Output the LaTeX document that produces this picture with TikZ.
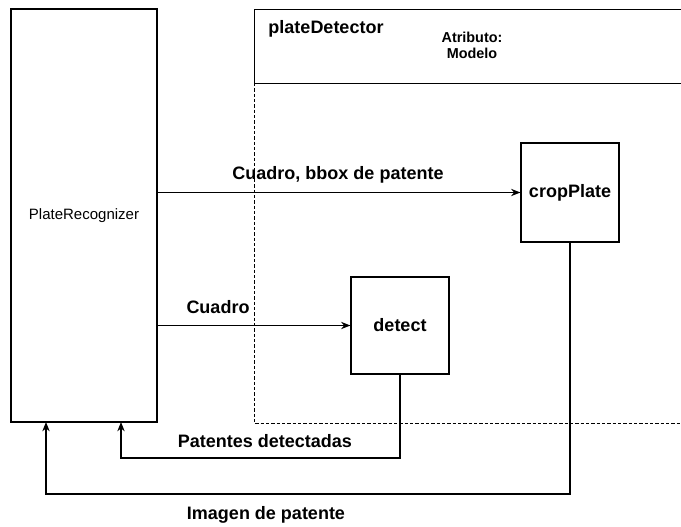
\documentclass[tikz,border=0pt]{standalone}
\usepackage{fontspec}
\setmainfont{Liberation Sans}
\usetikzlibrary{arrows.meta,calc}
\begin{document}
\begin{tikzpicture}[x=0.75pt,y=-0.75pt,
  box/.style={draw,line width=0.9pt,rectangle,inner sep=0pt},
  lbl/.style={font=\fontsize{13.5}{16}\selectfont\bfseries,inner sep=0pt},
  arr/.style={draw,line width=0.9pt,-{Stealth[length=7pt,width=5.5pt]}},
  ln/.style={draw,line width=0.9pt}]
\useasboundingbox (0,0) rectangle (681,527);
% dashed region
\draw[line width=0.7pt,dash pattern=on 2.5pt off 1.5pt] (254,83) -- (254,423) -- (690,423);
% header
\node[box,minimum width=327pt,minimum height=55.5pt,anchor=north west] (hdr) at (254,9) {};
\node[lbl] (hdrt) at (326,29) {plateDetector};
\node[font=\fontsize{10.8}{12}\selectfont\bfseries,align=center,inner sep=0pt] (attr) at (472,45) {Atributo:\\Modelo};
% nodes
\node[box,minimum width=109.5pt,minimum height=309.75pt,font=\fontsize{11.25}{13}\selectfont] (rec) at (84,215.5) {PlateRecognizer};
\node[box,minimum width=73.5pt,minimum height=72.75pt,font=\fontsize{13.5}{16}\selectfont\bfseries] (detect) at (400,325.5) {detect};
\node[box,minimum width=73.5pt,minimum height=74.25pt,font=\fontsize{13.5}{16}\selectfont\bfseries] (crop) at (570,192.5) {cropPlate};
\coordinate (r1) at (121,422);
\coordinate (r2) at (46,422);
% connectors
\draw[arr] (rec.east |- crop.west) -- (crop.west);
\draw[arr] (rec.east |- detect.west) -- (detect.west);
\draw[arr] (detect.south) -- (detect.south |- 0,458) -| (r1);
\draw[arr] (crop.south) -- (crop.south |- 0,494) -| (r2);
% labels
\node[lbl] (l1) at (338,175) {Cuadro, bbox de patente};
\node[lbl] (l2) at (218,307) {Cuadro};
\node[lbl] (l3) at (265,441) {Patentes detectadas};
\node[lbl] (l4) at (266,515) {Imagen de patente};
\end{tikzpicture}
\end{document}
